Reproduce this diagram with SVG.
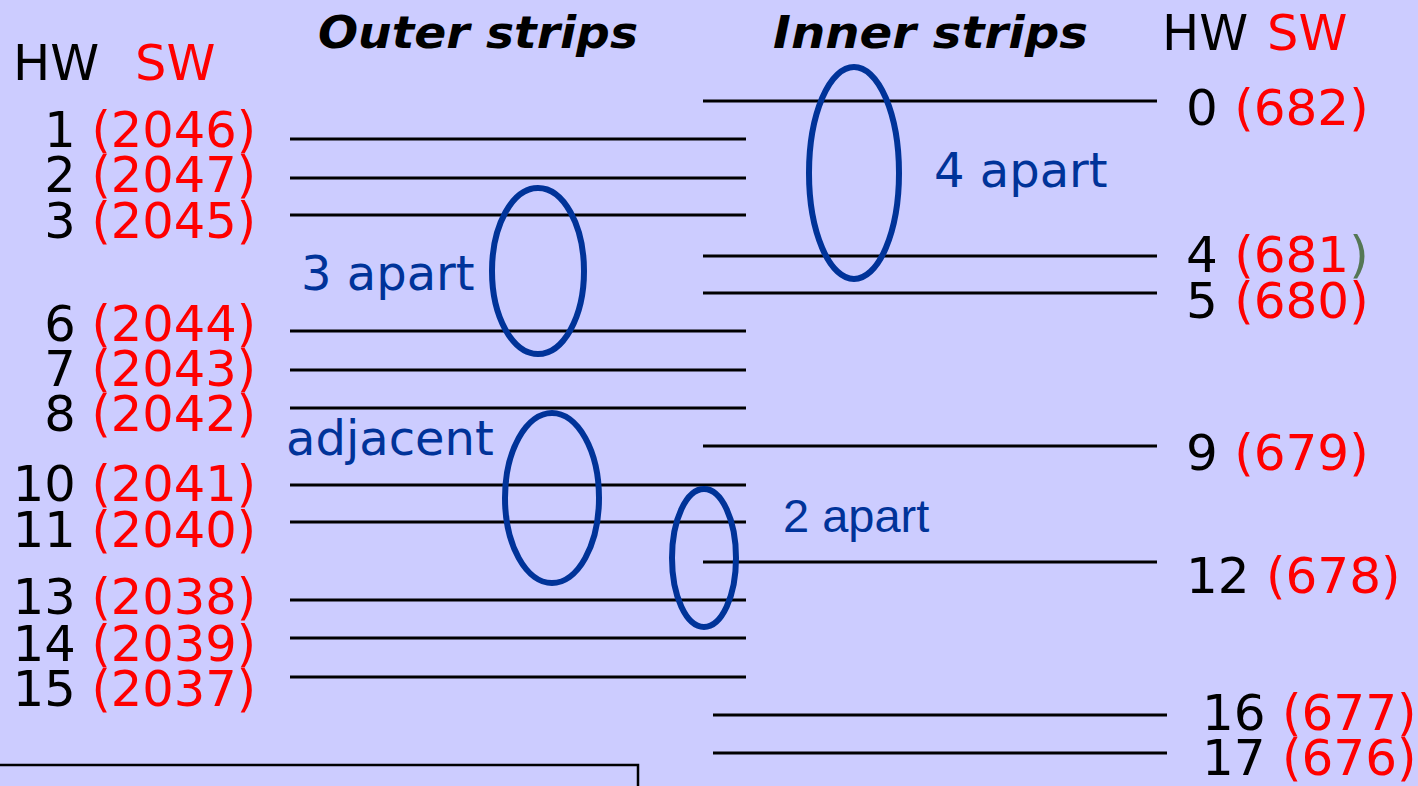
<svg xmlns="http://www.w3.org/2000/svg" width="1418" height="786" viewBox="0 0 1418 786">
<style>
.lbl{font-family:"DejaVu Sans",Verdana,sans-serif;font-size:49.5px;fill:#000}
.rl{font-size:50px;word-spacing:0.5px}
.sw{fill:#ff0000}
.hdr{font-family:"DejaVu Sans",Verdana,sans-serif;font-size:45px;font-weight:bold;font-style:italic;fill:#000}
.ann{font-family:"DejaVu Sans",Verdana,sans-serif;font-size:48px;fill:#003399}
.strip{stroke:#000;stroke-width:2.8}
.ring{fill:none;stroke:#003399;stroke-width:6}
</style>
<rect x="0" y="0" width="1418" height="786" fill="#ccccff"/>
<g id="headers">
<text class="hdr" x="318" y="48" textLength="320" lengthAdjust="spacingAndGlyphs">Outer strips</text>
<text class="hdr" x="773" y="48" textLength="315" lengthAdjust="spacingAndGlyphs">Inner strips</text>
<text class="lbl" x="13" y="80" font-size="46">HW <tspan class="sw" x="135">SW</tspan></text>
<text class="lbl" x="1162" y="50" font-size="46">HW <tspan class="sw" x="1267">SW</tspan></text>
</g>
<g id="left-labels" class="lbl" text-anchor="end">
<text x="256" y="147">1 <tspan class="sw">(2046)</tspan></text>
<text x="256" y="192">2 <tspan class="sw">(2047)</tspan></text>
<text x="256" y="238">3 <tspan class="sw">(2045)</tspan></text>
<text x="256" y="341">6 <tspan class="sw">(2044)</tspan></text>
<text x="256" y="386">7 <tspan class="sw">(2043)</tspan></text>
<text x="256" y="431">8 <tspan class="sw">(2042)</tspan></text>
<text x="256" y="501">10 <tspan class="sw">(2041)</tspan></text>
<text x="256" y="547">11 <tspan class="sw">(2040)</tspan></text>
<text x="256" y="614">13 <tspan class="sw">(2038)</tspan></text>
<text x="256" y="661">14 <tspan class="sw">(2039)</tspan></text>
<text x="256" y="706">15 <tspan class="sw">(2037)</tspan></text>
</g>
<g id="right-labels" class="lbl rl">
<text x="1186" y="125">0 <tspan class="sw">(682)</tspan></text>
<text x="1186" y="272">4 <tspan class="sw">(681</tspan><tspan fill="#557755">)</tspan></text>
<text x="1186" y="318">5 <tspan class="sw">(680)</tspan></text>
<text x="1186" y="470">9 <tspan class="sw">(679)</tspan></text>
<text x="1186" y="593">12 <tspan class="sw">(678)</tspan></text>
<text x="1202" y="730">16 <tspan class="sw">(677)</tspan></text>
<text x="1202" y="775">17 <tspan class="sw">(676)</tspan></text>
</g>
<g id="strips" class="strip">
<line x1="290" y1="139" x2="746" y2="139"/>
<line x1="290" y1="178" x2="746" y2="178"/>
<line x1="290" y1="215" x2="746" y2="215"/>
<line x1="290" y1="331" x2="746" y2="331"/>
<line x1="290" y1="370" x2="746" y2="370"/>
<line x1="290" y1="408" x2="746" y2="408"/>
<line x1="290" y1="485" x2="746" y2="485"/>
<line x1="290" y1="522" x2="746" y2="522"/>
<line x1="290" y1="600" x2="746" y2="600"/>
<line x1="290" y1="638" x2="746" y2="638"/>
<line x1="290" y1="677" x2="746" y2="677"/>
<line x1="703" y1="101" x2="1157" y2="101"/>
<line x1="703" y1="256" x2="1157" y2="256"/>
<line x1="703" y1="293" x2="1157" y2="293"/>
<line x1="703" y1="446" x2="1157" y2="446"/>
<line x1="703" y1="562" x2="1157" y2="562"/>
<line x1="713" y1="715" x2="1167" y2="715"/>
<line x1="713" y1="753" x2="1167" y2="753"/>
</g>
<g id="ring-4apart">
<ellipse class="ring" cx="854" cy="173" rx="45" ry="106"/>
<text class="ann" x="934" y="187">4 apart</text>
</g>
<g id="ring-3apart">
<ellipse class="ring" cx="538" cy="271" rx="46" ry="83"/>
<text class="ann" x="301" y="290">3 apart</text>
</g>
<g id="ring-adjacent">
<ellipse class="ring" cx="552" cy="498" rx="47" ry="85"/>
<text class="ann" x="286" y="455">adjacent</text>
</g>
<g id="ring-2apart">
<ellipse class="ring" cx="704" cy="558" rx="32" ry="69"/>
<text class="ann" x="783" y="532" style="font-family:'Liberation Sans',Arial,sans-serif;font-size:47px">2 apart</text>
</g>
<g id="box">
<rect x="-5" y="765" width="643" height="40" fill="none" stroke="#000" stroke-width="2.5"/>
</g>
</svg>
